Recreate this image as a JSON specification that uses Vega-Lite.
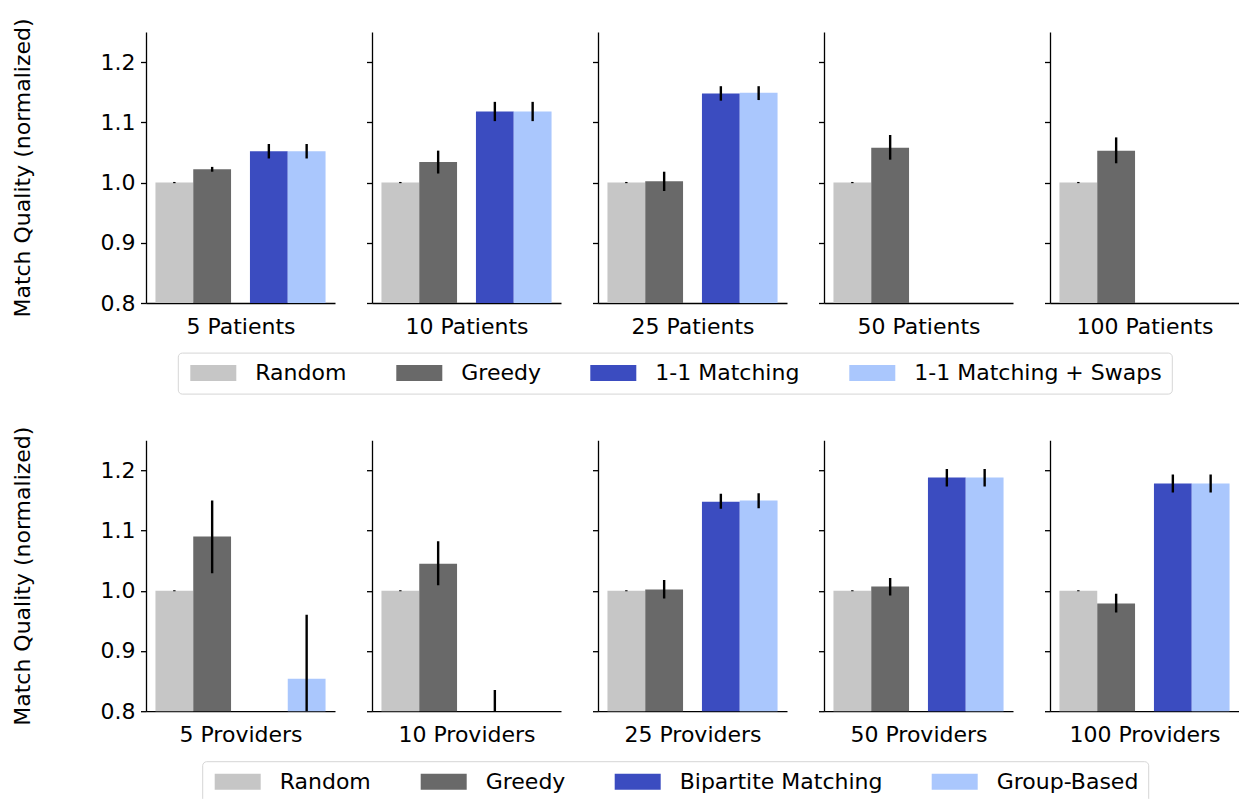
{
  "$schema": "https://vega.github.io/schema/vega-lite/v6.json",
  "padding": {"left": 11, "top": 17, "right": 0, "bottom": 0},
  "datasets": {
    "patients": [
      {"panel": "5 Patients", "grp": "A", "slot": "L", "method": "Random", "value": 1.0, "lo": 0.999, "hi": 1.001},
      {"panel": "5 Patients", "grp": "A", "slot": "R", "method": "Greedy", "value": 1.022, "lo": 1.018, "hi": 1.026},
      {"panel": "5 Patients", "grp": "B", "slot": "L", "method": "1-1 Matching", "value": 1.052, "lo": 1.040, "hi": 1.064},
      {"panel": "5 Patients", "grp": "B", "slot": "R", "method": "1-1 Matching + Swaps", "value": 1.052, "lo": 1.040, "hi": 1.064},
      {"panel": "10 Patients", "grp": "A", "slot": "L", "method": "Random", "value": 1.0, "lo": 0.999, "hi": 1.001},
      {"panel": "10 Patients", "grp": "A", "slot": "R", "method": "Greedy", "value": 1.034, "lo": 1.015, "hi": 1.053},
      {"panel": "10 Patients", "grp": "B", "slot": "L", "method": "1-1 Matching", "value": 1.118, "lo": 1.102, "hi": 1.134},
      {"panel": "10 Patients", "grp": "B", "slot": "R", "method": "1-1 Matching + Swaps", "value": 1.118, "lo": 1.102, "hi": 1.134},
      {"panel": "25 Patients", "grp": "A", "slot": "L", "method": "Random", "value": 1.0, "lo": 0.999, "hi": 1.001},
      {"panel": "25 Patients", "grp": "A", "slot": "R", "method": "Greedy", "value": 1.002, "lo": 0.986, "hi": 1.018},
      {"panel": "25 Patients", "grp": "B", "slot": "L", "method": "1-1 Matching", "value": 1.148, "lo": 1.136, "hi": 1.160},
      {"panel": "25 Patients", "grp": "B", "slot": "R", "method": "1-1 Matching + Swaps", "value": 1.149, "lo": 1.137, "hi": 1.160},
      {"panel": "50 Patients", "grp": "A", "slot": "L", "method": "Random", "value": 1.0, "lo": 0.999, "hi": 1.001},
      {"panel": "50 Patients", "grp": "A", "slot": "R", "method": "Greedy", "value": 1.058, "lo": 1.038, "hi": 1.079},
      {"panel": "100 Patients", "grp": "A", "slot": "L", "method": "Random", "value": 1.0, "lo": 0.999, "hi": 1.001},
      {"panel": "100 Patients", "grp": "A", "slot": "R", "method": "Greedy", "value": 1.053, "lo": 1.032, "hi": 1.075}
    ],
    "providers": [
      {"panel": "5 Providers", "grp": "A", "slot": "L", "method": "Random", "value": 1.0, "lo": 0.999, "hi": 1.001},
      {"panel": "5 Providers", "grp": "A", "slot": "R", "method": "Greedy", "value": 1.09, "lo": 1.029, "hi": 1.15},
      {"panel": "5 Providers", "grp": "B", "slot": "R", "method": "Group-Based", "value": 0.854, "lo": 0.748, "hi": 0.96},
      {"panel": "10 Providers", "grp": "A", "slot": "L", "method": "Random", "value": 1.0, "lo": 0.999, "hi": 1.001},
      {"panel": "10 Providers", "grp": "A", "slot": "R", "method": "Greedy", "value": 1.045, "lo": 1.009, "hi": 1.082},
      {"panel": "10 Providers", "grp": "B", "slot": "L", "method": "Bipartite Matching", "value": 0.78, "lo": 0.725, "hi": 0.835},
      {"panel": "25 Providers", "grp": "A", "slot": "L", "method": "Random", "value": 1.0, "lo": 0.999, "hi": 1.001},
      {"panel": "25 Providers", "grp": "A", "slot": "R", "method": "Greedy", "value": 1.002, "lo": 0.987, "hi": 1.018},
      {"panel": "25 Providers", "grp": "B", "slot": "L", "method": "Bipartite Matching", "value": 1.148, "lo": 1.136, "hi": 1.161},
      {"panel": "25 Providers", "grp": "B", "slot": "R", "method": "Group-Based", "value": 1.150, "lo": 1.137, "hi": 1.162},
      {"panel": "50 Providers", "grp": "A", "slot": "L", "method": "Random", "value": 1.0, "lo": 0.999, "hi": 1.001},
      {"panel": "50 Providers", "grp": "A", "slot": "R", "method": "Greedy", "value": 1.007, "lo": 0.992, "hi": 1.021},
      {"panel": "50 Providers", "grp": "B", "slot": "L", "method": "Bipartite Matching", "value": 1.188, "lo": 1.173, "hi": 1.202},
      {"panel": "50 Providers", "grp": "B", "slot": "R", "method": "Group-Based", "value": 1.188, "lo": 1.173, "hi": 1.202},
      {"panel": "100 Providers", "grp": "A", "slot": "L", "method": "Random", "value": 1.0, "lo": 0.999, "hi": 1.001},
      {"panel": "100 Providers", "grp": "A", "slot": "R", "method": "Greedy", "value": 0.979, "lo": 0.964, "hi": 0.995},
      {"panel": "100 Providers", "grp": "B", "slot": "L", "method": "Bipartite Matching", "value": 1.178, "lo": 1.163, "hi": 1.193},
      {"panel": "100 Providers", "grp": "B", "slot": "R", "method": "Group-Based", "value": 1.178, "lo": 1.163, "hi": 1.193}
    ]
  },
  "config": {
    "font": "DejaVu Sans",
    "view": {"stroke": null},
    "axis": {
      "grid": false,
      "domainColor": "black",
      "domainWidth": 1.3,
      "tickColor": "black",
      "tickWidth": 1.3,
      "labelFont": "DejaVu Sans",
      "titleFont": "DejaVu Sans",
      "labelFontSize": 22,
      "titleFontSize": 22,
      "titleFontWeight": "normal",
      "labelColor": "black",
      "titleColor": "black"
    },
    "axisX": {"ticks": false, "labels": false, "titlePadding": 13},
    "axisY": {"tickSize": 5.5, "labelPadding": 5.5, "titlePadding": 66},
    "legend": {
      "orient": "none",
      "direction": "horizontal",
      "title": null,
      "symbolType": "M-1,-1L4.75,-1L4.75,1L-1,1Z",
      "symbolSize": 256,
      "symbolStrokeWidth": 0,
      "symbolOpacity": 1,
      "labelFont": "DejaVu Sans",
      "labelFontSize": 22,
      "labelColor": "black",
      "labelOffset": 46,
      "labelLimit": 400,
      "columnPadding": 46,
      "padding": 9.5,
      "strokeColor": "#d6d6d6",
      "fillColor": "white",
      "cornerRadius": 4
    }
  },
  "resolve": {"scale": {"color": "independent"}},
  "spacing": 30.2,
  "vconcat": [
    {
      "spacing": 30,
      "hconcat": [
        {
          "width": 189, "height": 271,
          "data": {"name": "patients"},
          "transform": [{"filter": "datum.panel === '5 Patients'"}],
          "encoding": {
            "x": {"field": "grp", "type": "nominal", "scale": {"domain": ["A", "B"], "paddingInner": 0.2, "paddingOuter": 0.1}, "axis": {"title": "5 Patients"}},
            "xOffset": {"field": "slot", "type": "nominal", "scale": {"domain": ["L", "R"], "paddingInner": 0, "paddingOuter": 0}}
          },
          "layer": [
            {"mark": {"type": "bar", "clip": true}, "encoding": {
              "y": {"field": "value", "type": "quantitative", "scale": {"domain": [0.8, 1.25], "nice": false, "zero": false}, "axis": {"title": "Match Quality (normalized)", "labels": true, "values": [0.8, 0.9, 1.0, 1.1, 1.2], "format": ".1f"}},
              "color": {"field": "method", "type": "nominal", "scale": {"domain": ["Random", "Greedy", "1-1 Matching", "1-1 Matching + Swaps"], "range": ["#c6c6c6", "#696969", "#3b4cc0", "#aac7fd"]},
                "legend": {"orient": "none", "legendX": 31.8, "legendY": 320.6, "direction": "horizontal", "symbolType": "M-1,-1L4.75,-1L4.75,1L-1,1Z", "symbolSize": 256}}}},
            {"mark": {"type": "rule", "clip": true, "color": "black", "strokeWidth": 2.4}, "encoding": {
              "y": {"field": "lo", "type": "quantitative", "axis": {"title": "Match Quality (normalized)", "labels": true, "values": [0.8, 0.9, 1.0, 1.1, 1.2], "format": ".1f"}}, "y2": {"field": "hi"}}}
          ]
        },
        {
          "width": 189, "height": 271,
          "data": {"name": "patients"},
          "transform": [{"filter": "datum.panel === '10 Patients'"}],
          "encoding": {
            "x": {"field": "grp", "type": "nominal", "scale": {"domain": ["A", "B"], "paddingInner": 0.2, "paddingOuter": 0.1}, "axis": {"title": "10 Patients"}},
            "xOffset": {"field": "slot", "type": "nominal", "scale": {"domain": ["L", "R"], "paddingInner": 0, "paddingOuter": 0}}
          },
          "layer": [
            {"mark": {"type": "bar", "clip": true}, "encoding": {
              "y": {"field": "value", "type": "quantitative", "scale": {"domain": [0.8, 1.25], "nice": false, "zero": false}, "axis": {"title": null, "labels": false, "values": [0.8, 0.9, 1.0, 1.1, 1.2]}},
              "color": {"field": "method", "type": "nominal", "scale": {"domain": ["Random", "Greedy", "1-1 Matching", "1-1 Matching + Swaps"], "range": ["#c6c6c6", "#696969", "#3b4cc0", "#aac7fd"]}}}},
            {"mark": {"type": "rule", "clip": true, "color": "black", "strokeWidth": 2.4}, "encoding": {
              "y": {"field": "lo", "type": "quantitative", "axis": {"title": null, "labels": false, "values": [0.8, 0.9, 1.0, 1.1, 1.2]}}, "y2": {"field": "hi"}}}
          ]
        },
        {
          "width": 189, "height": 271,
          "data": {"name": "patients"},
          "transform": [{"filter": "datum.panel === '25 Patients'"}],
          "encoding": {
            "x": {"field": "grp", "type": "nominal", "scale": {"domain": ["A", "B"], "paddingInner": 0.2, "paddingOuter": 0.1}, "axis": {"title": "25 Patients"}},
            "xOffset": {"field": "slot", "type": "nominal", "scale": {"domain": ["L", "R"], "paddingInner": 0, "paddingOuter": 0}}
          },
          "layer": [
            {"mark": {"type": "bar", "clip": true}, "encoding": {
              "y": {"field": "value", "type": "quantitative", "scale": {"domain": [0.8, 1.25], "nice": false, "zero": false}, "axis": {"title": null, "labels": false, "values": [0.8, 0.9, 1.0, 1.1, 1.2]}},
              "color": {"field": "method", "type": "nominal", "scale": {"domain": ["Random", "Greedy", "1-1 Matching", "1-1 Matching + Swaps"], "range": ["#c6c6c6", "#696969", "#3b4cc0", "#aac7fd"]}}}},
            {"mark": {"type": "rule", "clip": true, "color": "black", "strokeWidth": 2.4}, "encoding": {
              "y": {"field": "lo", "type": "quantitative", "axis": {"title": null, "labels": false, "values": [0.8, 0.9, 1.0, 1.1, 1.2]}}, "y2": {"field": "hi"}}}
          ]
        },
        {
          "width": 189, "height": 271,
          "data": {"name": "patients"},
          "transform": [{"filter": "datum.panel === '50 Patients'"}],
          "encoding": {
            "x": {"field": "grp", "type": "nominal", "scale": {"domain": ["A", "B"], "paddingInner": 0.2, "paddingOuter": 0.1}, "axis": {"title": "50 Patients"}},
            "xOffset": {"field": "slot", "type": "nominal", "scale": {"domain": ["L", "R"], "paddingInner": 0, "paddingOuter": 0}}
          },
          "layer": [
            {"mark": {"type": "bar", "clip": true}, "encoding": {
              "y": {"field": "value", "type": "quantitative", "scale": {"domain": [0.8, 1.25], "nice": false, "zero": false}, "axis": {"title": null, "labels": false, "values": [0.8, 0.9, 1.0, 1.1, 1.2]}},
              "color": {"field": "method", "type": "nominal", "scale": {"domain": ["Random", "Greedy", "1-1 Matching", "1-1 Matching + Swaps"], "range": ["#c6c6c6", "#696969", "#3b4cc0", "#aac7fd"]}}}},
            {"mark": {"type": "rule", "clip": true, "color": "black", "strokeWidth": 2.4}, "encoding": {
              "y": {"field": "lo", "type": "quantitative", "axis": {"title": null, "labels": false, "values": [0.8, 0.9, 1.0, 1.1, 1.2]}}, "y2": {"field": "hi"}}}
          ]
        },
        {
          "width": 189, "height": 271,
          "data": {"name": "patients"},
          "transform": [{"filter": "datum.panel === '100 Patients'"}],
          "encoding": {
            "x": {"field": "grp", "type": "nominal", "scale": {"domain": ["A", "B"], "paddingInner": 0.2, "paddingOuter": 0.1}, "axis": {"title": "100 Patients"}},
            "xOffset": {"field": "slot", "type": "nominal", "scale": {"domain": ["L", "R"], "paddingInner": 0, "paddingOuter": 0}}
          },
          "layer": [
            {"mark": {"type": "bar", "clip": true}, "encoding": {
              "y": {"field": "value", "type": "quantitative", "scale": {"domain": [0.8, 1.25], "nice": false, "zero": false}, "axis": {"title": null, "labels": false, "values": [0.8, 0.9, 1.0, 1.1, 1.2]}},
              "color": {"field": "method", "type": "nominal", "scale": {"domain": ["Random", "Greedy", "1-1 Matching", "1-1 Matching + Swaps"], "range": ["#c6c6c6", "#696969", "#3b4cc0", "#aac7fd"]}}}},
            {"mark": {"type": "rule", "clip": true, "color": "black", "strokeWidth": 2.4}, "encoding": {
              "y": {"field": "lo", "type": "quantitative", "axis": {"title": null, "labels": false, "values": [0.8, 0.9, 1.0, 1.1, 1.2]}}, "y2": {"field": "hi"}}}
          ]
        }
      ]
    },
    {
      "spacing": 30,
      "hconcat": [
        {
          "width": 189, "height": 271,
          "data": {"name": "providers"},
          "transform": [{"filter": "datum.panel === '5 Providers'"}],
          "encoding": {
            "x": {"field": "grp", "type": "nominal", "scale": {"domain": ["A", "B"], "paddingInner": 0.2, "paddingOuter": 0.1}, "axis": {"title": "5 Providers"}},
            "xOffset": {"field": "slot", "type": "nominal", "scale": {"domain": ["L", "R"], "paddingInner": 0, "paddingOuter": 0}}
          },
          "layer": [
            {"mark": {"type": "bar", "clip": true}, "encoding": {
              "y": {"field": "value", "type": "quantitative", "scale": {"domain": [0.8, 1.25], "nice": false, "zero": false}, "axis": {"title": "Match Quality (normalized)", "labels": true, "values": [0.8, 0.9, 1.0, 1.1, 1.2], "format": ".1f"}},
              "color": {"field": "method", "type": "nominal", "scale": {"domain": ["Random", "Greedy", "Bipartite Matching", "Group-Based"], "range": ["#c6c6c6", "#696969", "#3b4cc0", "#aac7fd"]},
                "legend": {"orient": "none", "legendX": 56.2, "legendY": 321, "direction": "horizontal", "symbolType": "M-1,-1L4.75,-1L4.75,1L-1,1Z", "symbolSize": 256}}}},
            {"mark": {"type": "rule", "clip": true, "color": "black", "strokeWidth": 2.4}, "encoding": {
              "y": {"field": "lo", "type": "quantitative", "axis": {"title": "Match Quality (normalized)", "labels": true, "values": [0.8, 0.9, 1.0, 1.1, 1.2], "format": ".1f"}}, "y2": {"field": "hi"}}}
          ]
        },
        {
          "width": 189, "height": 271,
          "data": {"name": "providers"},
          "transform": [{"filter": "datum.panel === '10 Providers'"}],
          "encoding": {
            "x": {"field": "grp", "type": "nominal", "scale": {"domain": ["A", "B"], "paddingInner": 0.2, "paddingOuter": 0.1}, "axis": {"title": "10 Providers"}},
            "xOffset": {"field": "slot", "type": "nominal", "scale": {"domain": ["L", "R"], "paddingInner": 0, "paddingOuter": 0}}
          },
          "layer": [
            {"mark": {"type": "bar", "clip": true}, "encoding": {
              "y": {"field": "value", "type": "quantitative", "scale": {"domain": [0.8, 1.25], "nice": false, "zero": false}, "axis": {"title": null, "labels": false, "values": [0.8, 0.9, 1.0, 1.1, 1.2]}},
              "color": {"field": "method", "type": "nominal", "scale": {"domain": ["Random", "Greedy", "Bipartite Matching", "Group-Based"], "range": ["#c6c6c6", "#696969", "#3b4cc0", "#aac7fd"]}}}},
            {"mark": {"type": "rule", "clip": true, "color": "black", "strokeWidth": 2.4}, "encoding": {
              "y": {"field": "lo", "type": "quantitative", "axis": {"title": null, "labels": false, "values": [0.8, 0.9, 1.0, 1.1, 1.2]}}, "y2": {"field": "hi"}}}
          ]
        },
        {
          "width": 189, "height": 271,
          "data": {"name": "providers"},
          "transform": [{"filter": "datum.panel === '25 Providers'"}],
          "encoding": {
            "x": {"field": "grp", "type": "nominal", "scale": {"domain": ["A", "B"], "paddingInner": 0.2, "paddingOuter": 0.1}, "axis": {"title": "25 Providers"}},
            "xOffset": {"field": "slot", "type": "nominal", "scale": {"domain": ["L", "R"], "paddingInner": 0, "paddingOuter": 0}}
          },
          "layer": [
            {"mark": {"type": "bar", "clip": true}, "encoding": {
              "y": {"field": "value", "type": "quantitative", "scale": {"domain": [0.8, 1.25], "nice": false, "zero": false}, "axis": {"title": null, "labels": false, "values": [0.8, 0.9, 1.0, 1.1, 1.2]}},
              "color": {"field": "method", "type": "nominal", "scale": {"domain": ["Random", "Greedy", "Bipartite Matching", "Group-Based"], "range": ["#c6c6c6", "#696969", "#3b4cc0", "#aac7fd"]}}}},
            {"mark": {"type": "rule", "clip": true, "color": "black", "strokeWidth": 2.4}, "encoding": {
              "y": {"field": "lo", "type": "quantitative", "axis": {"title": null, "labels": false, "values": [0.8, 0.9, 1.0, 1.1, 1.2]}}, "y2": {"field": "hi"}}}
          ]
        },
        {
          "width": 189, "height": 271,
          "data": {"name": "providers"},
          "transform": [{"filter": "datum.panel === '50 Providers'"}],
          "encoding": {
            "x": {"field": "grp", "type": "nominal", "scale": {"domain": ["A", "B"], "paddingInner": 0.2, "paddingOuter": 0.1}, "axis": {"title": "50 Providers"}},
            "xOffset": {"field": "slot", "type": "nominal", "scale": {"domain": ["L", "R"], "paddingInner": 0, "paddingOuter": 0}}
          },
          "layer": [
            {"mark": {"type": "bar", "clip": true}, "encoding": {
              "y": {"field": "value", "type": "quantitative", "scale": {"domain": [0.8, 1.25], "nice": false, "zero": false}, "axis": {"title": null, "labels": false, "values": [0.8, 0.9, 1.0, 1.1, 1.2]}},
              "color": {"field": "method", "type": "nominal", "scale": {"domain": ["Random", "Greedy", "Bipartite Matching", "Group-Based"], "range": ["#c6c6c6", "#696969", "#3b4cc0", "#aac7fd"]}}}},
            {"mark": {"type": "rule", "clip": true, "color": "black", "strokeWidth": 2.4}, "encoding": {
              "y": {"field": "lo", "type": "quantitative", "axis": {"title": null, "labels": false, "values": [0.8, 0.9, 1.0, 1.1, 1.2]}}, "y2": {"field": "hi"}}}
          ]
        },
        {
          "width": 189, "height": 271,
          "data": {"name": "providers"},
          "transform": [{"filter": "datum.panel === '100 Providers'"}],
          "encoding": {
            "x": {"field": "grp", "type": "nominal", "scale": {"domain": ["A", "B"], "paddingInner": 0.2, "paddingOuter": 0.1}, "axis": {"title": "100 Providers"}},
            "xOffset": {"field": "slot", "type": "nominal", "scale": {"domain": ["L", "R"], "paddingInner": 0, "paddingOuter": 0}}
          },
          "layer": [
            {"mark": {"type": "bar", "clip": true}, "encoding": {
              "y": {"field": "value", "type": "quantitative", "scale": {"domain": [0.8, 1.25], "nice": false, "zero": false}, "axis": {"title": null, "labels": false, "values": [0.8, 0.9, 1.0, 1.1, 1.2]}},
              "color": {"field": "method", "type": "nominal", "scale": {"domain": ["Random", "Greedy", "Bipartite Matching", "Group-Based"], "range": ["#c6c6c6", "#696969", "#3b4cc0", "#aac7fd"]}}}},
            {"mark": {"type": "rule", "clip": true, "color": "black", "strokeWidth": 2.4}, "encoding": {
              "y": {"field": "lo", "type": "quantitative", "axis": {"title": null, "labels": false, "values": [0.8, 0.9, 1.0, 1.1, 1.2]}}, "y2": {"field": "hi"}}}
          ]
        }
      ]
    }
  ]
}
